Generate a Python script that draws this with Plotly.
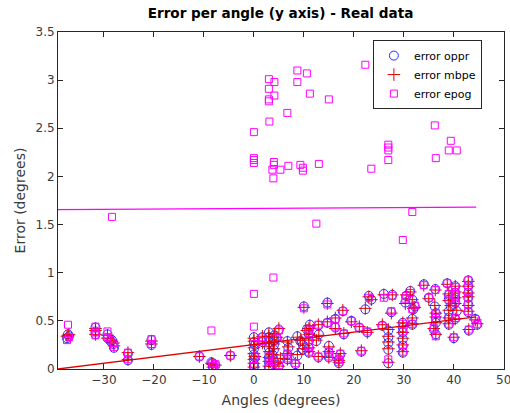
import plotly.graph_objects as go

# ---------------- data ----------------
angle = [
    -37.2, -37.4, -37.0,
    -31.7, -31.7, -31.7,
    -29.3, -29.3, -28.7, -28.4, -28.1, -28.0,
    -25.2, -25.2,
    -20.5, -20.5,
    -10.9, -8.5, -8.3, -7.7, -8.2, -4.7,
    0.0, 0.0, 0.0, 0.0, 0.0, 0.0, 0.0, 0.2, 0.2,
    1.7, 1.7,
    3.0, 3.0, 3.0, 3.0, 3.1, 3.0, 3.0, 3.0,
    4.1, 4.1, 4.0, 4.0, 3.7, 3.9, 3.9, 4.0,
    5.0, 5.3, 5.0, 4.6,
    6.7, 6.9, 6.7, 6.7,
    8.7, 8.7, 8.3,
    9.3, 9.8, 9.8,
    10.0, 10.6,
    11.2, 11.0, 11.0, 11.0, 11.0, 11.0,
    12.9, 13.0, 12.5, 12.9,
    14.7, 14.7, 15.0, 15.0, 15.0,
    16.3, 16.3,
    17.3, 17.0, 17.0,
    17.8, 18.0, 19.5, 21.1, 21.5, 22.3, 22.7, 23.0, 23.5, 25.7, 26.0,
    26.9, 26.9, 26.9, 26.9, 26.9, 27.5, 27.7,
    29.8, 29.8, 29.8, 29.8, 29.8, 29.8,
    30.3, 30.5, 31.3, 31.7, 31.9, 31.7, 31.7, 32.2,
    34.0, 35.0,
    36.3, 36.2, 36.4, 36.4, 36.4, 36.0, 36.4,
    38.7, 39.0, 39.0, 39.4, 39.0, 39.0, 39.0,
    40.0, 40.3, 40.3, 40.3, 40.3, 40.6, 40.3,
    42.9, 42.9, 42.9, 42.9, 42.9, 42.9, 43.0,
    44.3, 44.7,
]

error_oppr = [
    0.36, 0.32, 0.34,
    0.43, 0.39, 0.36,
    0.36, 0.32, 0.29, 0.30, 0.26, 0.22,
    0.16, 0.09,
    0.30, 0.25,
    0.13, 0.07, 0.06, 0.04, 0.02, 0.14,
    0.33, 0.28, 0.21, 0.15, 0.10, 0.05, 0.02, 0.25, 0.12,
    0.33, 0.28,
    0.38, 0.33, 0.28, 0.22, 0.17, 0.12, 0.07, 0.02,
    0.35, 0.30, 0.25, 0.20, 0.15, 0.10, 0.05, 0.08,
    0.41, 0.10, 0.03, 0.32,
    0.29, 0.22, 0.15, 0.10,
    0.34, 0.14, 0.05,
    0.29, 0.25, 0.20,
    0.65, 0.41,
    0.46, 0.41, 0.36, 0.29, 0.22, 0.17,
    0.45, 0.36, 0.29, 0.12,
    0.69, 0.48, 0.24, 0.17, 0.12,
    0.52, 0.43,
    0.15, 0.10, 0.06,
    0.60, 0.36, 0.50, 0.43, 0.18, 0.62, 0.38, 0.76, 0.72, 0.45, 0.78,
    0.40, 0.33, 0.27, 0.20, 0.06, 0.59, 0.77,
    0.48, 0.43, 0.38, 0.31, 0.24, 0.17,
    0.69, 0.76, 0.81, 0.72, 0.62, 0.52, 0.46, 0.65,
    0.88, 0.74,
    0.83, 0.65, 0.58, 0.53, 0.48, 0.41, 0.36,
    0.89, 0.77, 0.72, 0.65, 0.60, 0.53, 0.46,
    0.32, 0.86, 0.79, 0.74, 0.69, 0.60, 0.52,
    0.92, 0.86, 0.79, 0.74, 0.67, 0.59, 0.40,
    0.52, 0.46,
]

error_mbpe = [
    0.35, 0.34, 0.36,
    0.42, 0.40, 0.36,
    0.35, 0.32, 0.30, 0.29, 0.27, 0.24,
    0.17, 0.10,
    0.29, 0.26,
    0.13, 0.06, 0.05, 0.04, 0.02, 0.14,
    0.32, 0.29, 0.22, 0.16, 0.10, 0.06, 0.02, 0.25, 0.13,
    0.34, 0.27,
    0.37, 0.34, 0.28, 0.23, 0.18, 0.12, 0.08, 0.03,
    0.36, 0.30, 0.26, 0.21, 0.15, 0.11, 0.05, 0.07,
    0.42, 0.11, 0.03, 0.33,
    0.28, 0.23, 0.16, 0.10,
    0.33, 0.15, 0.06,
    0.30, 0.26, 0.21,
    0.64, 0.40,
    0.45, 0.42, 0.36, 0.30, 0.22, 0.18,
    0.46, 0.35, 0.30, 0.13,
    0.68, 0.49, 0.23, 0.18, 0.12,
    0.53, 0.42,
    0.16, 0.09, 0.07,
    0.61, 0.37, 0.49, 0.44, 0.19, 0.63, 0.38, 0.75, 0.72, 0.46, 0.77,
    0.41, 0.34, 0.28, 0.21, 0.07, 0.58, 0.77,
    0.48, 0.44, 0.38, 0.32, 0.25, 0.18,
    0.68, 0.77, 0.80, 0.72, 0.63, 0.53, 0.47, 0.64,
    0.87, 0.73,
    0.82, 0.66, 0.58, 0.54, 0.48, 0.42, 0.36,
    0.88, 0.78, 0.71, 0.66, 0.61, 0.53, 0.47,
    0.33, 0.86, 0.80, 0.74, 0.68, 0.61, 0.52,
    0.91, 0.86, 0.79, 0.75, 0.66, 0.60, 0.41,
    0.51, 0.47,
]

error_epog = [
    0.46, 0.30, 0.33,
    0.44, 0.38, 0.35,
    0.39, 0.33, 0.30, 1.58, 0.27, 0.23,
    0.17, 0.10,
    0.31, 0.26,
    0.13, 0.40, 0.06, 0.05, 0.03, 0.14,
    0.44, 0.78, 2.46, 2.19, 2.17, 2.14, 0.03, 0.26, 0.13,
    0.33, 0.29,
    3.01, 2.91, 2.80, 2.78, 2.57, 0.13, 0.08, 0.03,
    2.98, 2.84, 2.15, 2.12, 2.07, 1.98, 0.95, 0.08,
    0.40, 2.07, 0.04, 0.32,
    2.66, 2.11, 0.16, 0.11,
    3.10, 2.98, 0.06,
    2.12, 2.09, 2.06,
    0.63, 3.07,
    2.86, 0.41, 0.37, 0.30, 0.23, 0.18,
    0.46, 2.13, 1.51, 0.13,
    0.67, 0.48, 2.80, 0.18, 0.13,
    0.52, 0.44,
    0.16, 0.10, 0.07,
    0.60, 0.37, 0.50, 0.43, 0.19, 3.16, 0.39, 0.74, 2.08, 0.45, 0.74,
    2.33, 2.30, 2.27, 2.17, 0.10, 0.60, 0.76,
    0.47, 2.75, 0.39, 1.34, 0.25, 0.18,
    0.73, 0.76, 0.79, 1.63, 2.83, 0.62, 0.47, 0.66,
    0.87, 0.74,
    0.82, 2.53, 2.19, 0.53, 0.58, 0.43, 0.34,
    0.89, 0.78, 0.72, 2.37, 2.27, 0.54, 0.47,
    0.33, 0.85, 0.80, 0.75, 0.69, 2.27, 0.53,
    0.92, 0.87, 0.80, 0.74, 0.67, 0.60, 0.41,
    0.52, 0.47,
]

assert len(angle) == len(error_oppr) == len(error_mbpe) == len(error_epog)

# linear-fit lines: (slope, intercept)
fit_mbpe = (0.00647, 0.2535)
fit_epog = (0.00030, 1.667)
fit_x = [-39.2, 44.5]

x_lim = [-39.2, 50.05]
y_lim = [0, 3.5]
x_ticks = [-30, -20, -10, 0, 10, 20, 30, 40, 50]
y_ticks = [0, 0.5, 1, 1.5, 2, 2.5, 3, 3.5]

title_text = "Error per angle (y axis) - Real data"
x_title = "Angles (degrees)"
y_title = "Error (degrees)"

# ---------------- figure ----------------
BLUE = "#2b2bff"
RED = "#e00000"
MAGENTA = "#ff00ff"
AX = "#262626"
TICK = "#3a3a3a"

fig = go.Figure()

fig.add_trace(go.Scatter(
    x=angle, y=error_oppr, mode="markers", name="error oppr",
    marker=dict(symbol="circle-open", size=9, color=BLUE, line=dict(width=1)),
))
fig.add_trace(go.Scatter(
    x=angle, y=error_mbpe, mode="markers", name="error mbpe",
    marker=dict(symbol="cross-thin-open", size=9, color=RED, line=dict(width=1, color=RED)),
))
fig.add_trace(go.Scatter(
    x=angle, y=error_epog, mode="markers", name="error epog",
    marker=dict(symbol="square-open", size=7, color=MAGENTA, line=dict(width=1)),
))


def fit_line(coef):
    m, b = coef
    return [m * x + b for x in fit_x]


fig.add_trace(go.Scatter(x=fit_x, y=fit_line(fit_mbpe), mode="lines", showlegend=False,
                         line=dict(color=RED, width=1.3)))
fig.add_trace(go.Scatter(x=fit_x, y=fit_line(fit_epog), mode="lines", showlegend=False,
                         line=dict(color=MAGENTA, width=1.3)))

axis_common = dict(
    showgrid=False, zeroline=False, showline=True, linecolor=AX, linewidth=1,
    mirror="ticks", ticks="inside", ticklen=5, tickcolor=AX,
    tickfont=dict(family="DejaVu Sans", size=12, color=TICK),
    ticklabeloverflow="allow", automargin=False,
)

fig.update_layout(
    width=510, height=413,
    margin=dict(l=58, r=6, t=32, b=44),
    paper_bgcolor="white", plot_bgcolor="white",
    title=dict(text="<b>" + title_text + "</b>", x=0.55, xanchor="center",
               y=0.968, yanchor="middle",
               font=dict(family="DejaVu Sans", size=13.6, color="black")),
    xaxis=dict(range=x_lim, tickvals=x_ticks, **axis_common,
               title=dict(text=x_title, standoff=8,
                          font=dict(family="DejaVu Sans", size=14, color=TICK))),
    yaxis=dict(range=y_lim, tickvals=y_ticks, **axis_common,
               title=dict(text=y_title, standoff=6,
                          font=dict(family="DejaVu Sans", size=14, color=TICK))),
    legend=dict(x=0.706, y=0.976, xanchor="left", yanchor="top",
                bordercolor=AX, borderwidth=1, bgcolor="white",
                font=dict(family="DejaVu Sans", size=11, color="black"),
                tracegroupgap=0, itemwidth=30),
    showlegend=True,
)

fig.write_html("out.html")
